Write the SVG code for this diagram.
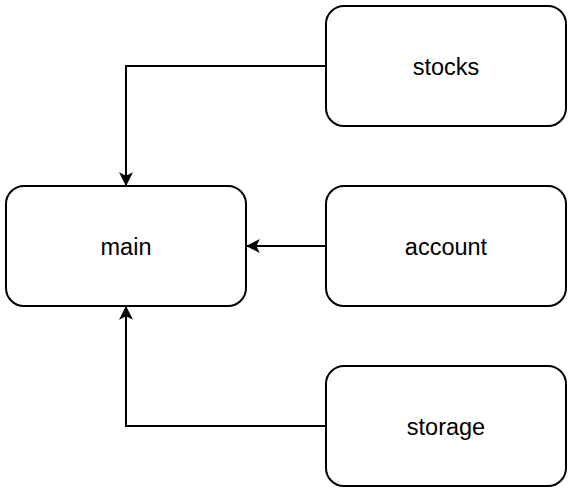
<svg xmlns="http://www.w3.org/2000/svg" width="572" height="493" viewBox="0 0 572 493">
<style>
.node rect{fill:#fff;stroke:#000;stroke-width:2}
.node text{font-family:"Liberation Sans",Arial,sans-serif;font-size:23.5px;fill:#000;text-anchor:middle;dominant-baseline:central}
.edge{fill:none;stroke:#000;stroke-width:2}
</style>
<defs>
<marker id="arr" viewBox="0 0 12 12" refX="11" refY="6" markerWidth="14" markerHeight="14" markerUnits="userSpaceOnUse" orient="auto">
<path d="M0,0 L12,6 L0,12 L3,6 Z" fill="#000"/>
</marker>
</defs>
<rect width="572" height="493" fill="#fff"/>
<g id="connectors">
<path class="edge" d="M326,66 H126 V185" marker-end="url(#arr)"/>
<path class="edge" d="M326,246 H247" marker-end="url(#arr)"/>
<path class="edge" d="M326,426 H126 V307" marker-end="url(#arr)"/>
</g>
<g id="main" class="node"><rect x="6" y="186" width="240" height="120" rx="18"/><text x="126" y="247">main</text></g>
<g id="stocks" class="node"><rect x="326" y="6" width="240" height="120" rx="18"/><text x="446" y="67">stocks</text></g>
<g id="account" class="node"><rect x="326" y="186" width="240" height="120" rx="18"/><text x="446" y="247">account</text></g>
<g id="storage" class="node"><rect x="326" y="366" width="240" height="120" rx="18"/><text x="446" y="427">storage</text></g>
</svg>
